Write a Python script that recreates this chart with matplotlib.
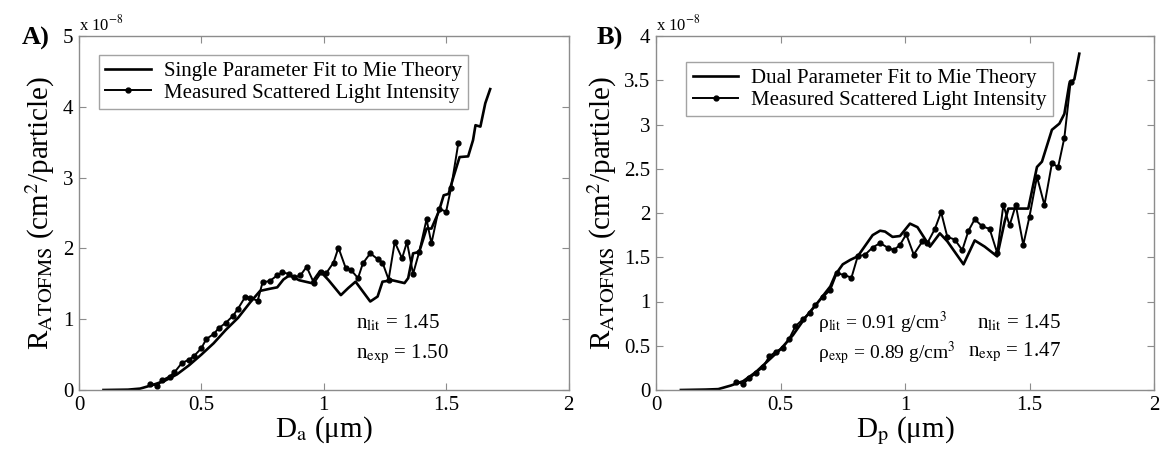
#
# imports
import matplotlib
matplotlib.use("Agg")
import matplotlib.pyplot as plt
import numpy as np
#
# Style: MATLAB-like figure with Times-like fonts
plt.rcParams['font.family'] = ['Liberation Serif', 'DejaVu Serif']
plt.rcParams['mathtext.fontset'] = 'stix'
#
#################################################################
# Panel A data (R in units of 1e-8 cm2/particle)
da_fit = [0.10, 0.20, 0.25, 0.30, 0.35, 0.40, 0.45, 0.50, 0.55, 0.60, 0.65, 0.70,
          0.74, 0.78, 0.81, 0.835, 0.86, 0.90, 0.95, 0.985, 1.02, 1.07, 1.10, 1.13,
          1.19, 1.22, 1.24, 1.28, 1.33, 1.345, 1.365, 1.39, 1.42, 1.44, 1.47, 1.49,
          1.51, 1.53, 1.555, 1.59, 1.61, 1.62, 1.64, 1.66, 1.68]
ra_fit = [0.0, 0.005, 0.02, 0.07, 0.13, 0.22, 0.35, 0.50, 0.66, 0.85, 1.02, 1.24,
          1.40, 1.43, 1.45, 1.56, 1.62, 1.55, 1.51, 1.68, 1.55, 1.34, 1.44, 1.53,
          1.25, 1.32, 1.53, 1.55, 1.51, 1.58, 1.93, 1.95, 2.28, 2.28, 2.52, 2.75,
          2.77, 3.01, 3.29, 3.30, 3.53, 3.74, 3.72, 4.05, 4.25]
da_meas = [0.29, 0.32, 0.34, 0.37, 0.39, 0.42, 0.45, 0.47, 0.50, 0.52, 0.55, 0.57,
           0.60, 0.63, 0.65, 0.68, 0.70, 0.73, 0.75, 0.78, 0.81, 0.83, 0.86, 0.88,
           0.905, 0.93, 0.96, 0.99, 1.01, 1.04, 1.06, 1.09, 1.11, 1.14, 1.16, 1.19,
           1.22, 1.24, 1.265, 1.29, 1.32, 1.34, 1.365, 1.39, 1.42, 1.44, 1.47, 1.50,
           1.52, 1.55]
ra_meas = [0.09, 0.06, 0.14, 0.19, 0.25, 0.38, 0.43, 0.48, 0.59, 0.72, 0.79, 0.87,
           0.95, 1.05, 1.15, 1.32, 1.30, 1.26, 1.52, 1.54, 1.62, 1.66, 1.64, 1.59,
           1.62, 1.74, 1.51, 1.66, 1.65, 1.80, 2.01, 1.72, 1.70, 1.58, 1.79, 1.93,
           1.85, 1.80, 1.56, 2.09, 1.86, 2.09, 1.64, 1.95, 2.41, 2.07, 2.56, 2.52,
           2.85, 3.49]
#
# Panel B data
dp_fit = [0.10, 0.20, 0.25, 0.30, 0.35, 0.40, 0.45, 0.50, 0.55, 0.60, 0.65, 0.70,
          0.72, 0.75, 0.78, 0.81, 0.84, 0.87, 0.90, 0.92, 0.95, 0.98, 1.02, 1.05,
          1.10, 1.14, 1.17, 1.235, 1.28, 1.32, 1.37, 1.40, 1.415, 1.495, 1.53, 1.55,
          1.59, 1.62, 1.64, 1.66, 1.68, 1.70]
rb_fit = [0.0, 0.005, 0.01, 0.05, 0.10, 0.20, 0.33, 0.46, 0.62, 0.82, 0.99, 1.17,
          1.30, 1.42, 1.47, 1.51, 1.63, 1.75, 1.80, 1.79, 1.73, 1.74, 1.88, 1.84,
          1.62, 1.77, 1.68, 1.42, 1.69, 1.62, 1.51, 1.90, 2.05, 2.05, 2.52, 2.58,
          2.94, 3.01, 3.12, 3.46, 3.51, 3.80]
dp_meas = [0.32, 0.35, 0.375, 0.40, 0.43, 0.455, 0.48, 0.51, 0.535, 0.56, 0.59, 0.617,
           0.64, 0.67, 0.70, 0.726, 0.755, 0.785, 0.81, 0.84, 0.87, 0.90, 0.93, 0.955,
           0.98, 1.005, 1.035, 1.07, 1.09, 1.12, 1.145, 1.17, 1.20, 1.23, 1.255, 1.28,
           1.31, 1.34, 1.37, 1.395, 1.42, 1.445, 1.475, 1.50, 1.53, 1.56, 1.59, 1.615,
           1.64, 1.665]
rb_meas = [0.09, 0.07, 0.13, 0.19, 0.26, 0.38, 0.43, 0.48, 0.58, 0.72, 0.80, 0.87,
           0.96, 1.05, 1.13, 1.32, 1.30, 1.27, 1.51, 1.53, 1.61, 1.66, 1.61, 1.58,
           1.64, 1.76, 1.53, 1.68, 1.66, 1.82, 2.01, 1.73, 1.70, 1.58, 1.80, 1.93,
           1.85, 1.82, 1.55, 2.09, 1.86, 2.09, 1.64, 1.96, 2.41, 2.09, 2.56, 2.52,
           2.85, 3.48]
#
xticks = [0, 0.5, 1, 1.5, 2]
xtick_labels = ['0', '0.5', '1', '1.5', '2']
yticks_a = [0, 1, 2, 3, 4, 5]
yticks_b = [0, 0.5, 1, 1.5, 2, 2.5, 3, 3.5, 4]
ytick_labels_b = ['0', '0.5', '1', '1.5', '2', '2.5', '3', '3.5', '4']
#
#################################################################
fig = plt.figure(figsize=(11.63, 4.54), dpi=100)
ax_a = fig.add_axes([79/1163, 64/454, (568.5-79)/1163, 354/454])
ax_b = fig.add_axes([656/1163, 64/454, (1154-656)/1163, 354/454])
#
def style_axes(ax):
    for sp in ax.spines.values():
        sp.set_color('#8c8c8c')
        sp.set_linewidth(1.0)
    ax.tick_params(direction='in', top=True, right=True, length=5, width=0.8,
                   color='#8c8c8c', labelsize=15, pad=4)
    ax.set_xlim(0, 2)
    ax.set_xticks(xticks)
    ax.set_xticklabels(xtick_labels)
#
# Panel A
ax_a.plot(da_fit, ra_fit, color='black', lw=1.9, label='Single Parameter Fit to Mie Theory')
ax_a.plot(da_meas, ra_meas, color='black', lw=1.4, marker='o', ms=3.5,
          label='Measured Scattered Light Intensity')
style_axes(ax_a)
ax_a.set_ylim(0, 5)
ax_a.set_yticks(yticks_a)
ax_a.set_xlabel('D$_{\\rm a}$ (μm)', fontsize=21, labelpad=0)
ax_a.set_ylabel(r'R$_{\rm ATOFMS}$ (cm$^2$/particle)', fontsize=21, labelpad=4)
ax_a.text(0.0, 1.005, r'x 10$^{-8}$', transform=ax_a.transAxes, fontsize=12,
          ha='left', va='bottom')
ax_a.text(0.565, 0.19, r'n$_{\rm lit}$ = 1.45', transform=ax_a.transAxes, fontsize=15,
          ha='left', va='center')
ax_a.text(0.565, 0.10, r'n$_{\rm exp}$ = 1.50', transform=ax_a.transAxes, fontsize=15,
          ha='left', va='center')
leg = ax_a.legend(loc='upper left', bbox_to_anchor=(0.02, 0.975), fontsize=15,
                  fancybox=False, edgecolor='#8c8c8c', handlelength=2.2,
                  borderpad=0.3, labelspacing=0.1, handletextpad=0.6)
leg.get_frame().set_linewidth(1.0)
fig.text(22/1163, 1-38/454, 'A)', fontsize=19, fontweight='bold', va='center')
#
# Panel B
ax_b.plot(dp_fit, rb_fit, color='black', lw=1.9, label='Dual Parameter Fit to Mie Theory')
ax_b.plot(dp_meas, rb_meas, color='black', lw=1.4, marker='o', ms=3.5,
          label='Measured Scattered Light Intensity')
style_axes(ax_b)
ax_b.set_ylim(0, 4)
ax_b.set_yticks(yticks_b)
ax_b.set_yticklabels(ytick_labels_b)
ax_b.set_xlabel('D$_{\\rm p}$ (μm)', fontsize=21, labelpad=0)
ax_b.set_ylabel(r'R$_{\rm ATOFMS}$ (cm$^2$/particle)', fontsize=21, labelpad=4)
ax_b.text(0.0, 1.005, r'x 10$^{-8}$', transform=ax_b.transAxes, fontsize=12,
          ha='left', va='bottom')
ax_b.text(0.325, 0.19, 'ρ$_{\\rm lit}$ = 0.91 g/cm$^3$', transform=ax_b.transAxes,
          fontsize=14, ha='left', va='center')
ax_b.text(0.325, 0.105, 'ρ$_{\\rm exp}$ = 0.89 g/cm$^3$', transform=ax_b.transAxes,
          fontsize=14, ha='left', va='center')
ax_b.text(0.645, 0.19, r'n$_{\rm lit}$ = 1.45', transform=ax_b.transAxes, fontsize=15,
          ha='left', va='center')
ax_b.text(0.627, 0.105, r'n$_{\rm exp}$ = 1.47', transform=ax_b.transAxes, fontsize=15,
          ha='left', va='center')
leg = ax_b.legend(loc='upper left', bbox_to_anchor=(0.04, 0.955), fontsize=15,
                  fancybox=False, edgecolor='#8c8c8c', handlelength=2.2,
                  borderpad=0.3, labelspacing=0.1, handletextpad=0.6)
leg.get_frame().set_linewidth(1.0)
fig.text(597/1163, 1-38/454, 'B)', fontsize=19, fontweight='bold', va='center')
#
fig.savefig('out.png', dpi=100)
